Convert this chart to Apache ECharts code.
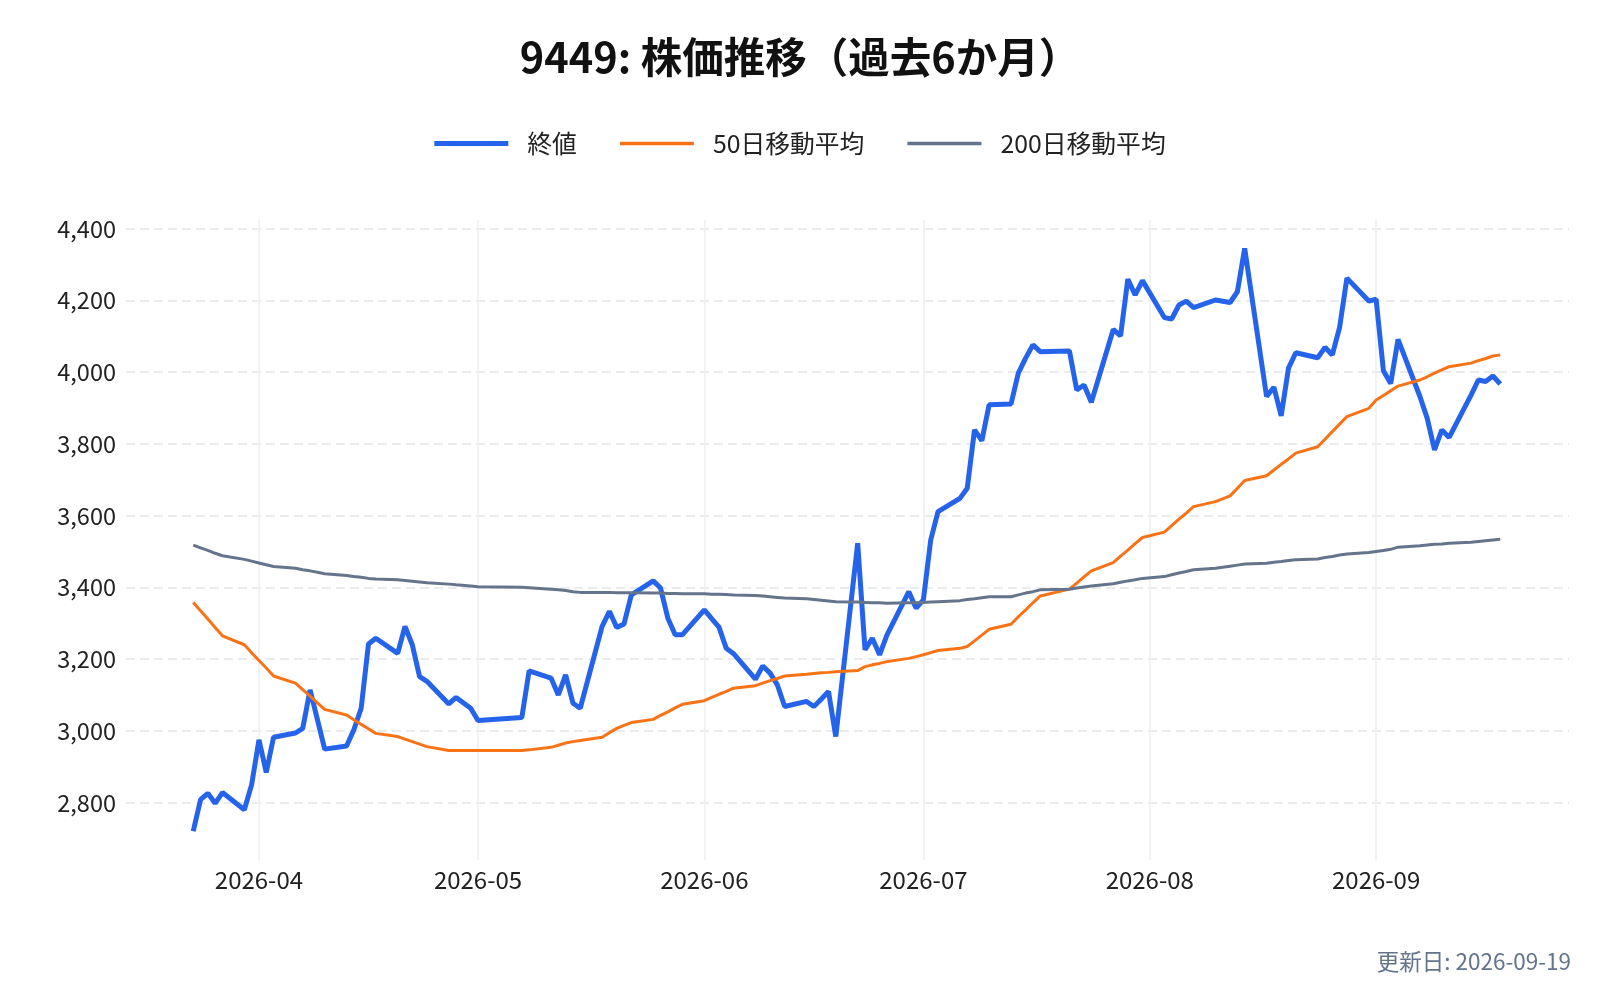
<!DOCTYPE html>
<html>
<head>
<meta charset="utf-8">
<title>9449 株価推移</title>
<script src="https://cdn.jsdelivr.net/npm/echarts@6/dist/echarts.min.js"></script>
<style>
    html, body { margin: 0; padding: 0; background: #fff; }
    #main { width: 1600px; height: 1000px; }
</style>
</head>
<body>
<div id="main"></div>
<script>
// 取引日
var dates = [
    '2026-03-23','2026-03-24','2026-03-25','2026-03-26','2026-03-27','2026-03-30','2026-03-31',
    '2026-04-01','2026-04-02','2026-04-03','2026-04-06','2026-04-07','2026-04-08','2026-04-09','2026-04-10',
    '2026-04-13','2026-04-14','2026-04-15','2026-04-16','2026-04-17','2026-04-20','2026-04-21','2026-04-22',
    '2026-04-23','2026-04-24','2026-04-27','2026-04-28','2026-04-30',
    '2026-05-01','2026-05-07','2026-05-08','2026-05-11','2026-05-12','2026-05-13','2026-05-14','2026-05-15',
    '2026-05-18','2026-05-19','2026-05-20','2026-05-21','2026-05-22','2026-05-25','2026-05-26','2026-05-27',
    '2026-05-28','2026-05-29',
    '2026-06-01','2026-06-02','2026-06-03','2026-06-04','2026-06-05','2026-06-08','2026-06-09','2026-06-10',
    '2026-06-11','2026-06-12','2026-06-15','2026-06-16','2026-06-17','2026-06-18','2026-06-19','2026-06-22',
    '2026-06-23','2026-06-24','2026-06-25','2026-06-26','2026-06-29','2026-06-30',
    '2026-07-01','2026-07-02','2026-07-03','2026-07-06','2026-07-07','2026-07-08','2026-07-09','2026-07-10',
    '2026-07-13','2026-07-14','2026-07-15','2026-07-16','2026-07-17','2026-07-21','2026-07-22','2026-07-23',
    '2026-07-24','2026-07-27','2026-07-28','2026-07-29','2026-07-30','2026-07-31',
    '2026-08-03','2026-08-04','2026-08-05','2026-08-06','2026-08-07','2026-08-10','2026-08-12','2026-08-13',
    '2026-08-14','2026-08-17','2026-08-18','2026-08-19','2026-08-20','2026-08-21','2026-08-24','2026-08-25',
    '2026-08-26','2026-08-27','2026-08-28','2026-08-31',
    '2026-09-01','2026-09-02','2026-09-03','2026-09-04','2026-09-07','2026-09-08','2026-09-09','2026-09-10',
    '2026-09-11','2026-09-14','2026-09-15','2026-09-16','2026-09-17','2026-09-18'
];

// 終値
var closePrices = [
    2720,2808,2826,2798,2828,2780,2850,
    2975,2884,2982,2994,3007,3114,3032,2949,2958,3003,3063,3242,3258,3216,3291,3240,3151,3138,3075,3093,3063,
    3029,3037,3167,3147,3100,3156,3077,3063,3291,3333,3288,3298,3379,3418,3398,3314,3268,3268,
    3337,3313,3289,3230,3215,3144,3181,3161,3128,3068,3082,3068,3088,3110,2984,3523,3226,3258,3212,3267,3388,3342,
    3365,3532,3611,3648,3676,3839,3809,3909,3911,3997,4039,4076,4057,4059,3950,3964,3916,4119,4101,4259,4215,4255,
    4152,4148,4187,4198,4180,4201,4194,4224,4345,3932,3958,3878,4011,4054,4040,4069,4048,4125,4262,4198,
    4203,4004,3968,4091,3932,3871,3783,3839,3818,3936,3978,3974,3989,3967
];

// 50日移動平均
var ma50 = [
    3358,3335,3312,3288,3265,3240,3218,
    3196,3175,3153,3133,3115,3097,3078,3060,3044,3031,3018,3006,2993,2984,2977,2970,2963,2956,2945,2945,2945,
    2945,2945,2947,2954,2960,2966,2970,2973,2982,2995,3007,3015,3023,3032,3043,3053,3064,3074,
    3084,3093,3102,3110,3119,3126,3133,3140,3146,3153,3158,3160,3162,3163,3165,3168,3179,3184,3188,3193,3202,3207,
    3212,3218,3224,3230,3235,3251,3267,3283,3297,3318,3337,3357,3376,3395,3412,3429,3446,3469,3487,3504,3522,3539,
    3554,3572,3590,3607,3625,3639,3655,3676,3698,3711,3727,3743,3758,3774,3792,3813,3834,3855,3876,3899,
    3922,3935,3948,3961,3978,3987,3997,4006,4015,4025,4032,4038,4045,4048
];

// 200日移動平均
var ma200 = [
    3518,3510,3503,3495,3488,3478,3473,
    3468,3463,3458,3453,3449,3446,3442,3438,3433,3430,3428,3425,3423,3421,3419,3417,3415,3413,3409,3407,3404,
    3402,3400,3399,3395,3393,3391,3388,3386,3386,3386,3385,3385,3385,3384,3384,3383,3383,3382,
    3382,3381,3381,3380,3379,3377,3376,3374,3372,3370,3368,3366,3364,3362,3360,3359,3358,3357,3357,3356,3357,3357,
    3358,3359,3360,3363,3366,3368,3371,3374,3374,3379,3384,3388,3393,3395,3398,3401,3404,3410,3414,3418,3421,3425,
    3430,3435,3440,3444,3449,3453,3459,3462,3465,3467,3470,3472,3475,3477,3479,3483,3486,3490,3493,3497,
    3500,3503,3506,3512,3516,3518,3520,3521,3523,3526,3528,3530,3532,3534
];

var seriesNames = ['終値', '50日移動平均', '200日移動平均'];
var updatedText = '更新日: 2026-09-19';

var FONT = '"Noto Sans CJK JP", "Noto Sans", sans-serif';

function pairs(values) {
    var out = [];
    for (var i = 0; i < dates.length; i++) {
        out.push([dates[i], values[i]]);
    }
    return out;
}

// 凡例は線だけ（太さを系列ごとに）
var thickIcon = 'path://M0,0H74V5H0Z';
var thinIcon = 'path://M0,0H74V3.5H0Z';

var chart = echarts.init(document.getElementById('main'), null, {renderer: 'canvas'});

chart.setOption({
    animation: false,
    backgroundColor: '#ffffff',
    textStyle: {fontFamily: FONT},
    title: [{
        text: '9449: 株価推移（過去6か月）',
        left: 'center',
        top: 31,
        textStyle: {fontSize: 41.5, fontWeight: 'bold', color: '#111111', fontFamily: FONT}
    }, {
        text: updatedText,
        right: 24,
        top: 945,
        textStyle: {fontSize: 22.5, fontWeight: 'normal', color: '#64748b', fontFamily: FONT}
    }],
    legend: {
        data: [
            {name: seriesNames[0], icon: thickIcon},
            {name: seriesNames[1], icon: thinIcon},
            {name: seriesNames[2], icon: thinIcon}
        ],
        left: 'center',
        top: 126,
        itemWidth: 74,
        itemHeight: 14,
        itemGap: 43,
        symbolKeepAspect: true,
        textStyle: {fontSize: 24.8, color: '#222222', fontFamily: FONT, padding: [0, 0, 0, 14]}
    },
    grid: {left: 126, right: 31, top: 220, bottom: 140, containLabel: false},
    xAxis: {
        type: 'time',
        min: '2026-03-13T19:00:00',
        max: '2026-09-27T10:00:00',
        splitNumber: 7,
        axisLine: {show: false},
        axisTick: {show: false},
        axisLabel: {
            fontSize: 24,
            color: '#222222',
            margin: 8,
            showMinLabel: false,
            showMaxLabel: false,
            formatter: function (v) {
                return echarts.time.format(v, '{yyyy}-{MM}', false);
            }
        },
        splitLine: {
            show: true,
            showMinLine: false,
            showMaxLine: false,
            lineStyle: {color: '#edf0f5', width: 1.5}
        }
    },
    yAxis: {
        type: 'value',
        min: 2640,
        max: 4424,
        minInterval: 200,
        maxInterval: 200,
        axisLine: {show: false},
        axisTick: {show: false},
        axisLabel: {
            fontSize: 23.5,
            color: '#222222',
            margin: 10,
            showMinLabel: false,
            showMaxLabel: false,
            formatter: function (v) {
                if (v % 200 !== 0) return '';
                return v.toLocaleString('en-US');
            }
        },
        splitLine: {
            show: true,
            showMinLine: false,
            showMaxLine: false,
            lineStyle: {color: '#e3e5ea', width: 1.5, type: [9, 5]}
        }
    },
    series: [{
        name: seriesNames[0],
        type: 'line',
        data: pairs(closePrices),
        symbol: 'none',
        lineStyle: {color: '#2563eb', width: 5},
        itemStyle: {color: '#2563eb'}
    }, {
        name: seriesNames[1],
        type: 'line',
        data: pairs(ma50),
        symbol: 'none',
        lineStyle: {color: '#f97316', width: 3},
        itemStyle: {color: '#f97316'}
    }, {
        name: seriesNames[2],
        type: 'line',
        data: pairs(ma200),
        symbol: 'none',
        lineStyle: {color: '#64748b', width: 3},
        itemStyle: {color: '#64748b'}
    }]
});
</script>
</body>
</html>
